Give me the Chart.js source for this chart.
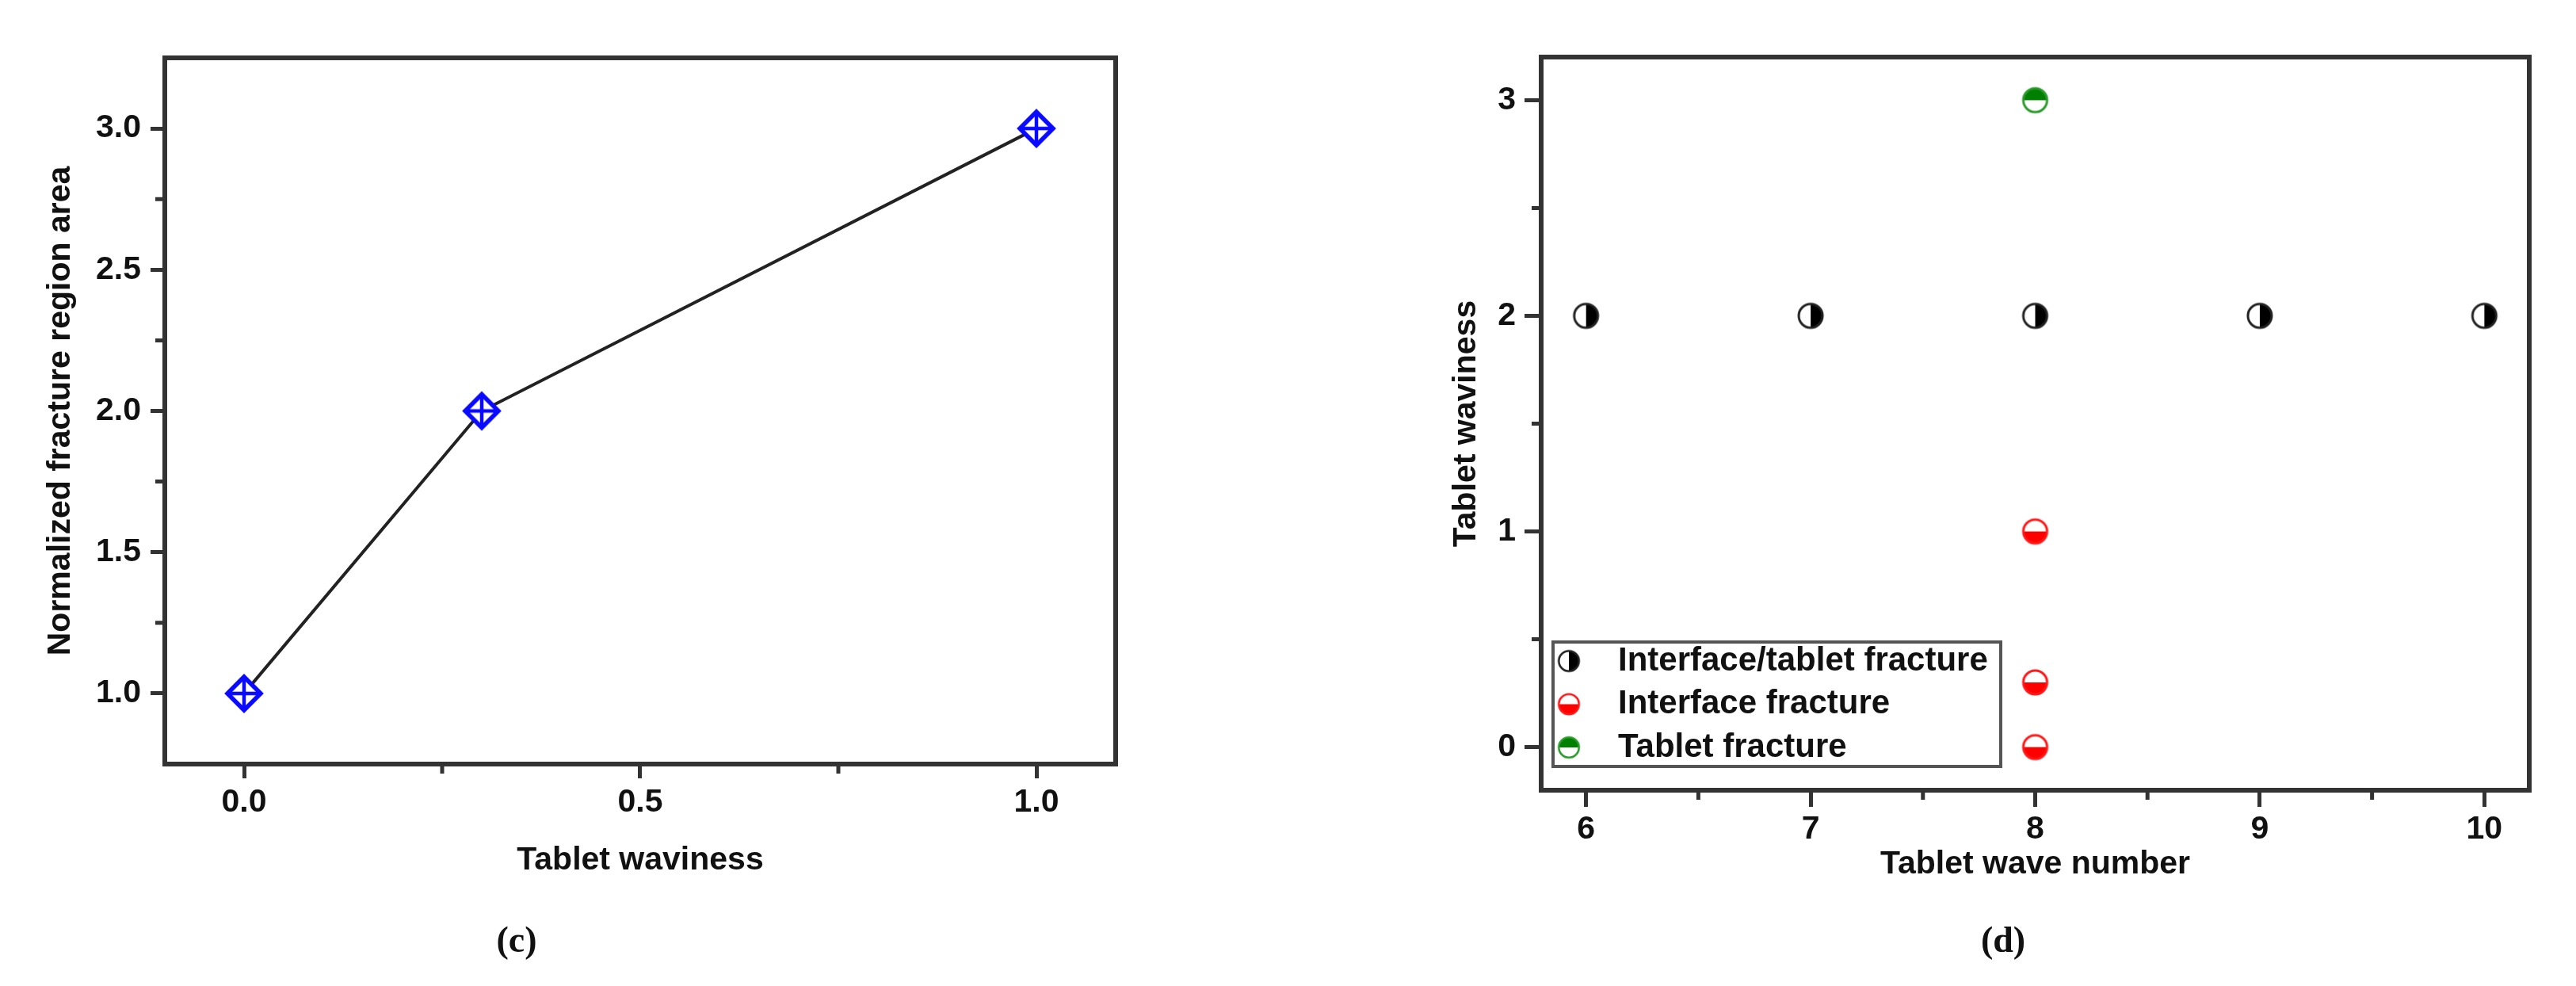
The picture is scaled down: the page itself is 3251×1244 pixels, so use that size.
<!DOCTYPE html>
<html><head><meta charset="utf-8">
<script src="https://cdn.jsdelivr.net/npm/chart.js@4.4.1/dist/chart.umd.min.js"></script>
<style>
html,body{margin:0;padding:0;background:#fff;}
body{width:3251px;height:1244px;position:relative;overflow:hidden;}
canvas{position:absolute;top:0;}
#c1{left:0;}
#c2{left:1700px;}
.cap{position:absolute;font-family:'Liberation Serif',serif;font-weight:bold;font-size:46px;color:#111;transform:translate(-50%,-50%);white-space:nowrap;}
</style></head><body>
<canvas id="c1" width="1500" height="1244" style="width:1500px;height:1244px"></canvas>
<canvas id="c2" width="1551" height="1244" style="width:1551px;height:1244px"></canvas>
<div class="cap" style="left:652px;top:1185px">(c)</div>
<div class="cap" style="left:2528px;top:1185px">(d)</div>
<script>
// ---- Panel (c) data ----
const wavinessC = [0, 0.3, 1.0];
const fractureArea = [1.0, 2.0, 3.0];
const xTicksC = [0, 0.5, 1.0];
const xMinorC = [0.25, 0.75];
const yTicksC = [1.0, 1.5, 2.0, 2.5, 3.0];
const yMinorC = [1.25, 1.75, 2.25, 2.75];

// ---- Panel (d) data ----
const seriesNames = ['Interface/tablet fracture', 'Interface fracture', 'Tablet fracture'];
const mixedWaveNumber = [6, 7, 8, 9, 10];
const mixedWaviness = [2, 2, 2, 2, 2];
const interfaceWaveNumber = [8, 8, 8];
const interfaceWaviness = [1, 0.3, 0];
const tabletWaveNumber = [8];
const tabletWaviness = [3];
const xTicksD = [6, 7, 8, 9, 10];
const xMinorD = [6.5, 7.5, 8.5, 9.5];
const yTicksD = [0, 1, 2, 3];
const yMinorD = [0.5, 1.5, 2.5];

Chart.defaults.font.family = "'Liberation Sans', Arial, sans-serif";
Chart.defaults.color = '#111';

function pts(xs, ys) { return xs.map((x, i) => ({x: x, y: ys[i]})); }

function makeDiamond() {
  const s = 60, c = document.createElement('canvas');
  c.width = c.height = s;
  const g = c.getContext('2d'), m = s / 2, r = 21;
  g.strokeStyle = '#0a0aff'; g.fillStyle = '#fff'; g.lineWidth = 5.5; g.lineJoin = 'miter';
  g.beginPath(); g.moveTo(m, m - r); g.lineTo(m + r, m); g.lineTo(m, m + r); g.lineTo(m - r, m); g.closePath();
  g.fill(); g.stroke();
  g.lineWidth = 4.5;
  g.beginPath(); g.moveTo(m, m - r); g.lineTo(m, m + r); g.moveTo(m - r, m); g.lineTo(m + r, m); g.stroke();
  return c;
}
function makeHalf(fill, stroke, side) {
  const s = 40, c = document.createElement('canvas');
  c.width = c.height = s;
  const g = c.getContext('2d'), m = s / 2, r = 15;
  g.fillStyle = '#fff'; g.beginPath(); g.arc(m, m, r, 0, Math.PI * 2); g.fill();
  let a0, a1;
  if (side === 'right') { a0 = -Math.PI / 2; a1 = Math.PI / 2; }
  else if (side === 'bottom') { a0 = 0; a1 = Math.PI; }
  else { a0 = Math.PI; a1 = Math.PI * 2; }
  g.fillStyle = fill; g.beginPath(); g.arc(m, m, r, a0, a1); g.closePath(); g.fill();
  g.strokeStyle = stroke; g.lineWidth = 3; g.beginPath(); g.arc(m, m, r, 0, Math.PI * 2); g.stroke();
  return c;
}

const framePlugin = {
  id: 'frame',
  afterDraw(chart, args, o) {
    const {ctx, chartArea: a} = chart;
    const xs = chart.scales.x, ys = chart.scales.y;
    ctx.save();
    ctx.strokeStyle = o.color; ctx.lineWidth = o.width;
    ctx.strokeRect(a.left, a.top, a.right - a.left, a.bottom - a.top);
    ctx.lineWidth = o.minorWidth;
    ctx.beginPath();
    (o.xMinor || []).forEach(v => { const p = xs.getPixelForValue(v); ctx.moveTo(p, a.bottom); ctx.lineTo(p, a.bottom + o.minorLength); });
    (o.yMinor || []).forEach(v => { const p = ys.getPixelForValue(v); ctx.moveTo(a.left, p); ctx.lineTo(a.left - o.minorLength, p); });
    ctx.stroke();
    ctx.restore();
  }
};

const boxLegend = {
  id: 'boxLegend',
  afterDraw(chart, args, o) {
    if (!o.display) return;
    const {ctx, chartArea: a} = chart;
    const x0 = a.left + o.left, y1 = a.bottom - o.bottom, y0 = y1 - o.height;
    ctx.save();
    ctx.fillStyle = '#fff'; ctx.fillRect(x0, y0, o.width, o.height);
    ctx.strokeStyle = o.borderColor; ctx.lineWidth = o.borderWidth; ctx.strokeRect(x0, y0, o.width, o.height);
    ctx.font = o.font; ctx.fillStyle = o.color; ctx.textBaseline = 'middle'; ctx.textAlign = 'left';
    chart.data.datasets.forEach((ds, i) => {
      const cy = y0 + o.firstRow + i * o.rowGap;
      const img = ds.pointStyle, sz = img.width * o.markerScale;
      ctx.drawImage(img, x0 + o.markerX - sz / 2, cy - sz / 2, sz, sz);
      ctx.fillText(ds.label, x0 + o.textX, cy);
    });
    ctx.restore();
  }
};

const tickFont = {size: 41, weight: 'bold'};
const titleFont = {size: 41, weight: 'bold'};

function axis(opts) {
  return {
    type: 'linear',
    position: opts.position,
    min: opts.min, max: opts.max,
    afterBuildTicks: s => { s.ticks = opts.ticks.map(v => ({value: v})); },
    afterFit: s => { if (opts.position === 'bottom') s.height = opts.size; else s.width = opts.size; },
    ticks: {callback: opts.fmt, font: tickFont, color: '#111', padding: opts.pad, maxRotation: 0, autoSkip: false},
    grid: {display: true, drawOnChartArea: false, drawTicks: true, tickLength: opts.tl, tickWidth: 5, tickColor: '#333'},
    border: {display: true, color: '#333', width: 6},
    title: {display: true, text: opts.title, font: titleFont, color: '#111', padding: opts.titlePad}
  };
}

new Chart(document.getElementById('c1'), {
  type: 'scatter',
  data: {
    datasets: [{
      label: 'Normalized fracture region area',
      data: pts(wavinessC, fractureArea),
      showLine: true,
      borderColor: '#222',
      borderWidth: 4,
      pointStyle: makeDiamond(),
      pointRadius: 22,
      tension: 0
    }]
  },
  options: {
    responsive: false,
    animation: false,
    devicePixelRatio: 1,
    layout: {padding: {top: 73, right: 92, bottom: 120, left: 0}},
    plugins: {
      legend: {display: false},
      tooltip: {enabled: false},
      frame: {color: '#333', width: 6, minorWidth: 5, minorLength: 12, xMinor: xMinorC, yMinor: yMinorC}
    },
    scales: {
      x: axis({position: 'bottom', min: -0.1, max: 1.1, ticks: xTicksC, fmt: v => v.toFixed(1), size: 160, pad: 6, tl: 18,
               title: 'Tablet waviness', titlePad: {top: 0, bottom: 14}}),
      y: axis({position: 'left', min: 0.75, max: 3.25, ticks: yTicksC, fmt: v => v.toFixed(1), size: 208, pad: 12, tl: 18,
               title: 'Normalized fracture region area', titlePad: {top: 52, bottom: 0}})
    }
  },
  plugins: [framePlugin]
});

new Chart(document.getElementById('c2'), {
  type: 'scatter',
  data: {
    datasets: [
      {label: seriesNames[0], data: pts(mixedWaveNumber, mixedWaviness), pointStyle: makeHalf('#000', '#222', 'right'), pointRadius: 16},
      {label: seriesNames[1], data: pts(interfaceWaveNumber, interfaceWaviness), pointStyle: makeHalf('#ff0000', '#ff1a1a', 'bottom'), pointRadius: 16},
      {label: seriesNames[2], data: pts(tabletWaveNumber, tabletWaviness), pointStyle: makeHalf('#008000', '#2a9a2a', 'top'), pointRadius: 16}
    ]
  },
  options: {
    responsive: false,
    animation: false,
    devicePixelRatio: 1,
    layout: {padding: {top: 72, right: 59, bottom: 87, left: 0}},
    plugins: {
      legend: {display: false},
      tooltip: {enabled: false},
      frame: {color: '#333', width: 6, minorWidth: 5, minorLength: 12, xMinor: xMinorD, yMinor: yMinorD},
      boxLegend: {display: true, left: 15, bottom: 30, width: 565, height: 157, firstRow: 24, rowGap: 54.5,
                  markerX: 20, textX: 82, markerScale: 0.85, font: "bold 42px 'Liberation Sans', Arial, sans-serif",
                  color: '#111', borderColor: '#555', borderWidth: 4}
    },
    scales: {
      x: axis({position: 'bottom', min: 5.8, max: 10.2, ticks: xTicksD, fmt: v => String(v), size: 160, pad: 4, tl: 21,
               title: 'Tablet wave number', titlePad: {top: 0, bottom: 42}}),
      y: axis({position: 'left', min: -0.2, max: 3.2, ticks: yTicksD, fmt: v => String(v), size: 245, pad: 11, tl: 21,
               title: 'Tablet waviness', titlePad: {top: 126, bottom: 0}})
    }
  },
  plugins: [framePlugin, boxLegend]
});
</script>
</body></html>
